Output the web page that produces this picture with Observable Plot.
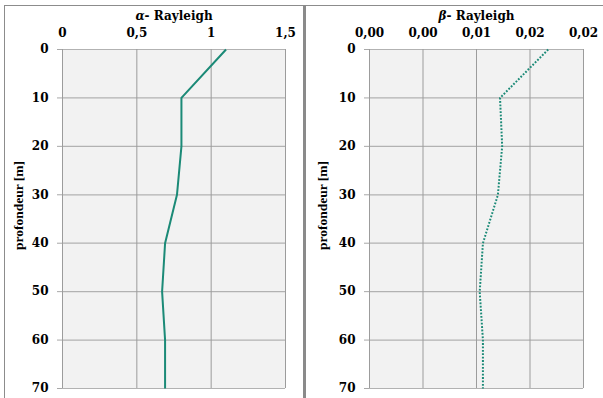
<!DOCTYPE html>
<html><head><meta charset="utf-8">
<script src="https://cdn.jsdelivr.net/npm/d3@7"></script>
<script src="https://cdn.jsdelivr.net/npm/@observablehq/plot@0.6"></script>
<style>
body{margin:0;background:#fff;width:603px;height:398px;overflow:hidden;position:relative}
#frame{position:absolute;left:4px;top:5px;width:599px;height:393px;border-top:1px solid #8c8c8c;border-left:1px solid #8c8c8c;box-sizing:border-box}
#left{position:absolute;left:5px;top:6px}
#divider{position:absolute;left:303px;top:5px;width:3px;height:393px;background:#8a8a8a}
#right{position:absolute;left:306px;top:6px}
svg{display:block}
</style></head>
<body>
<div id="frame"></div>
<div id="left"></div>
<div id="divider"></div>
<div id="right"></div>
<script>
const depth = [0, 10, 20, 30, 40, 50, 60, 70];
const alphaValues = [1.10, 0.80, 0.80, 0.77, 0.69, 0.67, 0.69, 0.69];
const betaValues = [0.0167, 0.0122, 0.0124, 0.0120, 0.0106, 0.0103, 0.0106, 0.0106];
const depthTicks = [0, 10, 20, 30, 40, 50, 60, 70];
const alphaTicks = [0, 0.5, 1, 1.5];
const alphaTickLabels = ["0", "0,5", "1", "1,5"];
const betaTicks = [0, 0.005, 0.01, 0.015, 0.02];
const betaTickLabels = ["0,00", "0,00", "0,01", "0,02", "0,02"];
const alphaTitle = "α- Rayleigh";
const betaTitle = "β- Rayleigh";
const depthLabel = "profondeur [m]";

function chart({values, xTicks, xLabels, xDomain, title, width, marginLeft, marginRight, dash, labelDx}) {
  const rows = depth.map((d, i) => ({depth: d, v: values[i]}));
  const svg = Plot.plot({
    width, height: 392,
    marginLeft, marginRight, marginTop: 43, marginBottom: 10,
    style: {fontFamily: "DejaVu Serif", fontWeight: "bold", fontSize: "12px", color: "#000", background: "transparent", overflow: "visible"},
    x: {domain: xDomain},
    y: {domain: [0, 70], reverse: true},
    marks: [
      Plot.frame({fill: "#f2f2f2", stroke: "none"}),
      Plot.ruleY(depthTicks, {stroke: "#b2b2b2", strokeWidth: 1.2, strokeOpacity: 1}),
      Plot.ruleX(xTicks, {stroke: "#9c9c9c", strokeWidth: 1, strokeOpacity: 1}),
      Plot.axisY({ticks: depthTicks, tickSize: 5, tickPadding: 9, stroke: "#a8a8a8", fill: "#000", label: null}),
      Plot.axisX({anchor: "top", ticks: xTicks, tickSize: 0, tickPadding: 13, fill: "#000", label: null,
        tickFormat: d => xLabels[xTicks.indexOf(d)]}),
      Plot.line(rows, {x: "v", y: "depth", stroke: "#1b8a77", strokeWidth: 2, strokeLinecap: "butt",
        strokeDasharray: dash ? "1.8,1.6" : null}),
      Plot.text([title], {frameAnchor: "top", lineAnchor: "middle", dy: -33, fontSize: 12, fontWeight: "bold", fill: "#000"}),
      Plot.text([depthLabel], {frameAnchor: "left", textAnchor: "middle", lineAnchor: "middle", rotate: -90, dx: labelDx, dy: -13.5,
        fontFamily: "Liberation Serif", fontSize: 13.5, fontWeight: "bold", fill: "#000"})
    ]
  });
  d3.select(svg).selectAll("text").filter(function() { return this.textContent === title; }).each(function() {
    const t = d3.select(this);
    const rest = title.slice(1);
    t.text(null);
    t.append("tspan").attr("font-style", "italic").text(title[0]);
    t.append("tspan").text(rest);
  });
  return svg;
}

document.getElementById("left").append(chart({
  values: alphaValues, xTicks: alphaTicks, xLabels: alphaTickLabels, xDomain: [0, 1.5],
  title: alphaTitle, width: 298, marginLeft: 57, marginRight: 18, dash: false, labelDx: -44
}));
document.getElementById("right").append(chart({
  values: betaValues, xTicks: betaTicks, xLabels: betaTickLabels, xDomain: [0, 0.02],
  title: betaTitle, width: 297, marginLeft: 63, marginRight: 20, dash: true, labelDx: -47
}));
</script>
</body></html>
